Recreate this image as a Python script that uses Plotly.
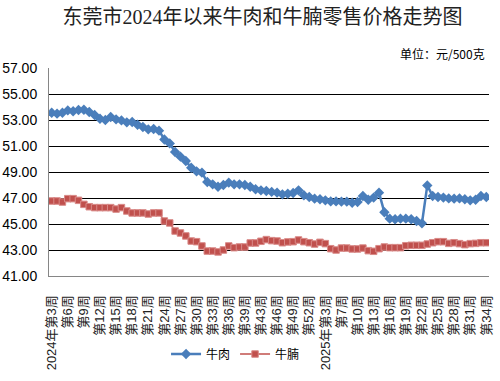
import plotly.graph_objects as go

weeks_2024 = list(range(3, 40)) + [41, 42] + list(range(43, 53))
weeks_2025 = [1, 2, 3, 4, 6] + list(range(7, 35))
categories = [f"2024年第{w}周" for w in weeks_2024] + [f"2025年第{w}周" for w in weeks_2025]

tick_labels = ["2024年第3周", "第6周", "第9周", "第12周", "第15周", "第18周", "第21周",
               "第24周", "第27周", "第30周", "第33周", "第36周", "第39周", "第43周",
               "第46周", "第49周", "第52周", "2025年第3周", "第7周", "第10周", "第13周",
               "第16周", "第19周", "第22周", "第25周", "第28周", "第31周", "第34周"]

beef = [53.56, 53.49, 53.56, 53.74, 53.67, 53.77, 53.79, 53.62, 53.38, 53.10,
        53.00, 53.23, 53.05, 52.97, 52.82, 52.85, 52.64, 52.46, 52.28, 52.31,
        52.18, 51.50, 51.20, 50.54, 50.18, 49.85, 49.33, 49.05, 48.95, 48.23,
        48.05, 47.87, 48.00, 48.18, 48.05, 48.05, 48.00, 47.87, 47.67, 47.59,
        47.54, 47.47, 47.41, 47.28, 47.33, 47.38, 47.59, 47.21, 47.08, 46.95,
        46.90, 46.82, 46.74, 46.74, 46.72, 46.72, 46.64, 46.69, 47.15, 46.87,
        47.03, 47.41, 45.90, 45.41, 45.36, 45.41, 45.41, 45.36, 45.23, 45.05,
        47.97, 47.15, 47.08, 47.03, 46.97, 46.95, 46.97, 46.90, 46.82, 46.87,
        47.15, 47.08]

brisket = [46.77, 46.77, 46.69, 46.95, 46.95, 46.82, 46.51, 46.33, 46.26, 46.26,
           46.26, 46.26, 46.15, 46.26, 46.00, 45.85, 45.85, 45.85, 45.77, 45.85,
           45.85, 45.23, 45.08, 44.46, 44.31, 44.08, 43.69, 43.64, 43.31, 42.92,
           42.92, 42.85, 43.00, 43.31, 43.18, 43.23, 43.23, 43.54, 43.54, 43.67,
           43.80, 43.72, 43.69, 43.56, 43.62, 43.64, 43.77, 43.64, 43.56, 43.46,
           43.59, 43.49, 43.10, 43.00, 43.15, 43.15, 43.08, 43.08, 43.15, 42.95,
           42.90, 43.10, 43.23, 43.18, 43.18, 43.18, 43.33, 43.36, 43.36, 43.36,
           43.46, 43.56, 43.64, 43.64, 43.51, 43.56, 43.49, 43.41, 43.49, 43.51,
           43.56, 43.56]

y_ticks = [41, 43, 45, 47, 49, 51, 53, 55, 57]

fig = go.Figure()
fig.add_trace(go.Scatter(
    x=categories, y=beef, name="牛肉", mode="lines+markers",
    line=dict(color="#4A7EBB", width=2.5),
    marker=dict(symbol="diamond", size=8, color="#4A7EBB"),
))
fig.add_trace(go.Scatter(
    x=categories, y=brisket, name="牛腩", mode="lines+markers",
    line=dict(color="#C0504D", width=1.5),
    marker=dict(symbol="square", size=6.5, color="#C0504D",
                line=dict(color="#D98A88", width=1)),
))

fig.update_layout(
    width=500, height=381,
    margin=dict(l=49, r=11, t=68, b=105),
    paper_bgcolor="white", plot_bgcolor="white",
    font=dict(family="Liberation Sans, Noto Sans CJK SC", color="#000"),
    title=dict(text="东莞市2024年以来牛肉和牛腩零售价格走势图",
               x=0.525, xanchor="center", y=0.955, yanchor="middle",
               font=dict(family="Liberation Serif, Noto Sans CJK SC", size=20, color="#222")),
    showlegend=True,
    legend=dict(orientation="h", x=0.266, xanchor="left", y=-0.375, yanchor="middle",
                font=dict(size=12, family="Noto Sans CJK SC"), bgcolor="rgba(0,0,0,0)",
                itemwidth=30),
    annotations=[dict(text="单位：元/500克", xref="paper", yref="paper",
                      x=0.995, xanchor="right", y=1.07, yanchor="middle",
                      showarrow=False, font=dict(size=12, family="Noto Sans CJK SC", color="#000"))],
)
fig.update_xaxes(
    type="category", range=[-0.5, len(categories) - 0.5],
    tickmode="array", tickvals=categories[::3], ticktext=tick_labels,
    tickangle=-90, tickfont=dict(size=13, color="#222"),
    showgrid=False, showline=True, linecolor="#868686", linewidth=1,
    ticks="", ticklabelstandoff=13, zeroline=False, automargin=False,
)
fig.update_yaxes(
    range=[41, 57], tickvals=y_ticks, tickformat=".2f",
    tickfont=dict(size=14, color="#000"),
    showgrid=True, gridcolor="#000", gridwidth=1,
    showline=True, linecolor="#868686", linewidth=1,
    ticks="", ticklabelstandoff=8, zeroline=False, automargin=False,
)

fig.write_html("out.html", config={"displayModeBar": False},
               post_script="document.body.style.margin='0';")
